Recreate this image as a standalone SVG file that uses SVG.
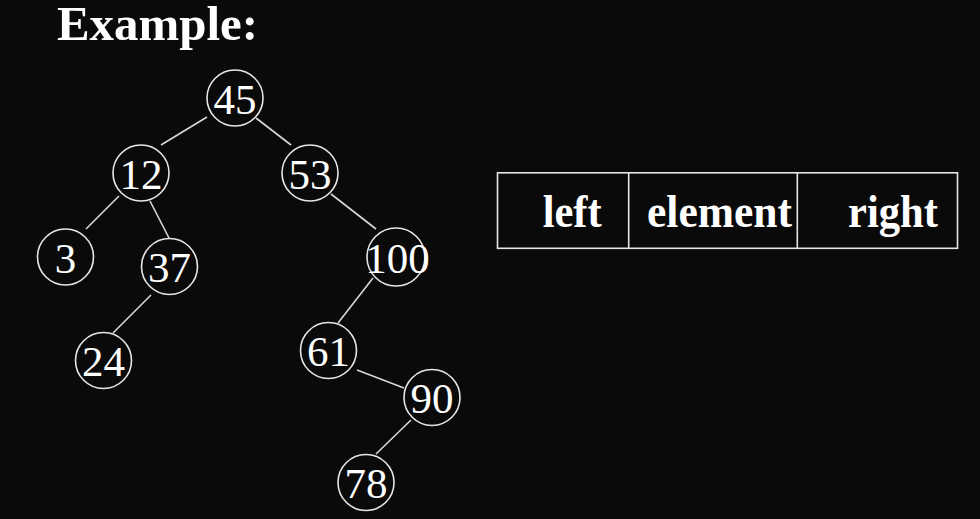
<svg xmlns="http://www.w3.org/2000/svg" width="980" height="519" viewBox="0 0 980 519">
<style>
.node circle{fill:#0a0a0a;stroke:#e6e6e6;stroke-width:1.6}
.node text{font-family:"Liberation Serif","Times New Roman",serif;font-size:43px;fill:#ffffff;text-anchor:middle}
.edges line{stroke:#d8d8d8;stroke-width:1.6}
.cell{fill:none;stroke:#e6e6e6;stroke-width:1.6}
.lbl{font-family:"Liberation Serif","Times New Roman",serif;font-weight:bold;font-size:46px;fill:#ffffff}
</style>
<rect width="980" height="519" fill="#0a0a0a"/>
<text x="57" y="40" font-family="'Liberation Serif','Times New Roman',serif" font-weight="bold" font-size="48" fill="#ffffff" textLength="201" lengthAdjust="spacingAndGlyphs">Example:</text>
<g class="edges">
<line x1="207" y1="117" x2="161" y2="145"/>
<line x1="256" y1="118" x2="291" y2="145"/>
<line x1="119" y1="196" x2="86" y2="229"/>
<line x1="150" y1="201" x2="169" y2="238"/>
<line x1="331" y1="194" x2="376" y2="229"/>
<line x1="151" y1="295" x2="113" y2="333"/>
<line x1="373" y1="278" x2="338" y2="323"/>
<line x1="357" y1="370" x2="404" y2="388"/>
<line x1="411" y1="420" x2="376" y2="454"/>
</g>
<g id="n45" class="node"><circle cx="235" cy="98" r="28"/><text x="235" y="113.5">45</text></g>
<g id="n12" class="node"><circle cx="141" cy="173" r="28"/><text x="141" y="188.5">12</text></g>
<g id="n53" class="node"><circle cx="310" cy="173" r="28"/><text x="310" y="188.5">53</text></g>
<g id="n3" class="node"><circle cx="65.5" cy="257" r="28"/><text x="65.5" y="272.5">3</text></g>
<g id="n37" class="node"><circle cx="169.5" cy="266.5" r="28"/><text x="169.5" y="282">37</text></g>
<g id="n100" class="node"><circle cx="396" cy="257" r="29"/><text x="397.5" y="272.5">100</text></g>
<g id="n24" class="node"><circle cx="103.5" cy="360.5" r="28"/><text x="103.5" y="376">24</text></g>
<g id="n61" class="node"><circle cx="328.5" cy="350.5" r="28"/><text x="328.5" y="366">61</text></g>
<g id="n90" class="node"><circle cx="432" cy="397.5" r="28"/><text x="432" y="413">90</text></g>
<g id="n78" class="node"><circle cx="366" cy="482.5" r="28"/><text x="366" y="498">78</text></g>
<g id="record">
<rect class="cell" x="497.5" y="172.8" width="460" height="75.5"/>
<line class="cell" x1="628.7" y1="172.8" x2="628.7" y2="248.3"/>
<line class="cell" x1="797.3" y1="172.8" x2="797.3" y2="248.3"/>
<text class="lbl" x="542.7" y="227" textLength="59" lengthAdjust="spacingAndGlyphs">left</text>
<text class="lbl" x="647" y="227" textLength="145" lengthAdjust="spacingAndGlyphs">element</text>
<text class="lbl" x="848" y="227" textLength="90" lengthAdjust="spacingAndGlyphs">right</text>
</g>
</svg>
